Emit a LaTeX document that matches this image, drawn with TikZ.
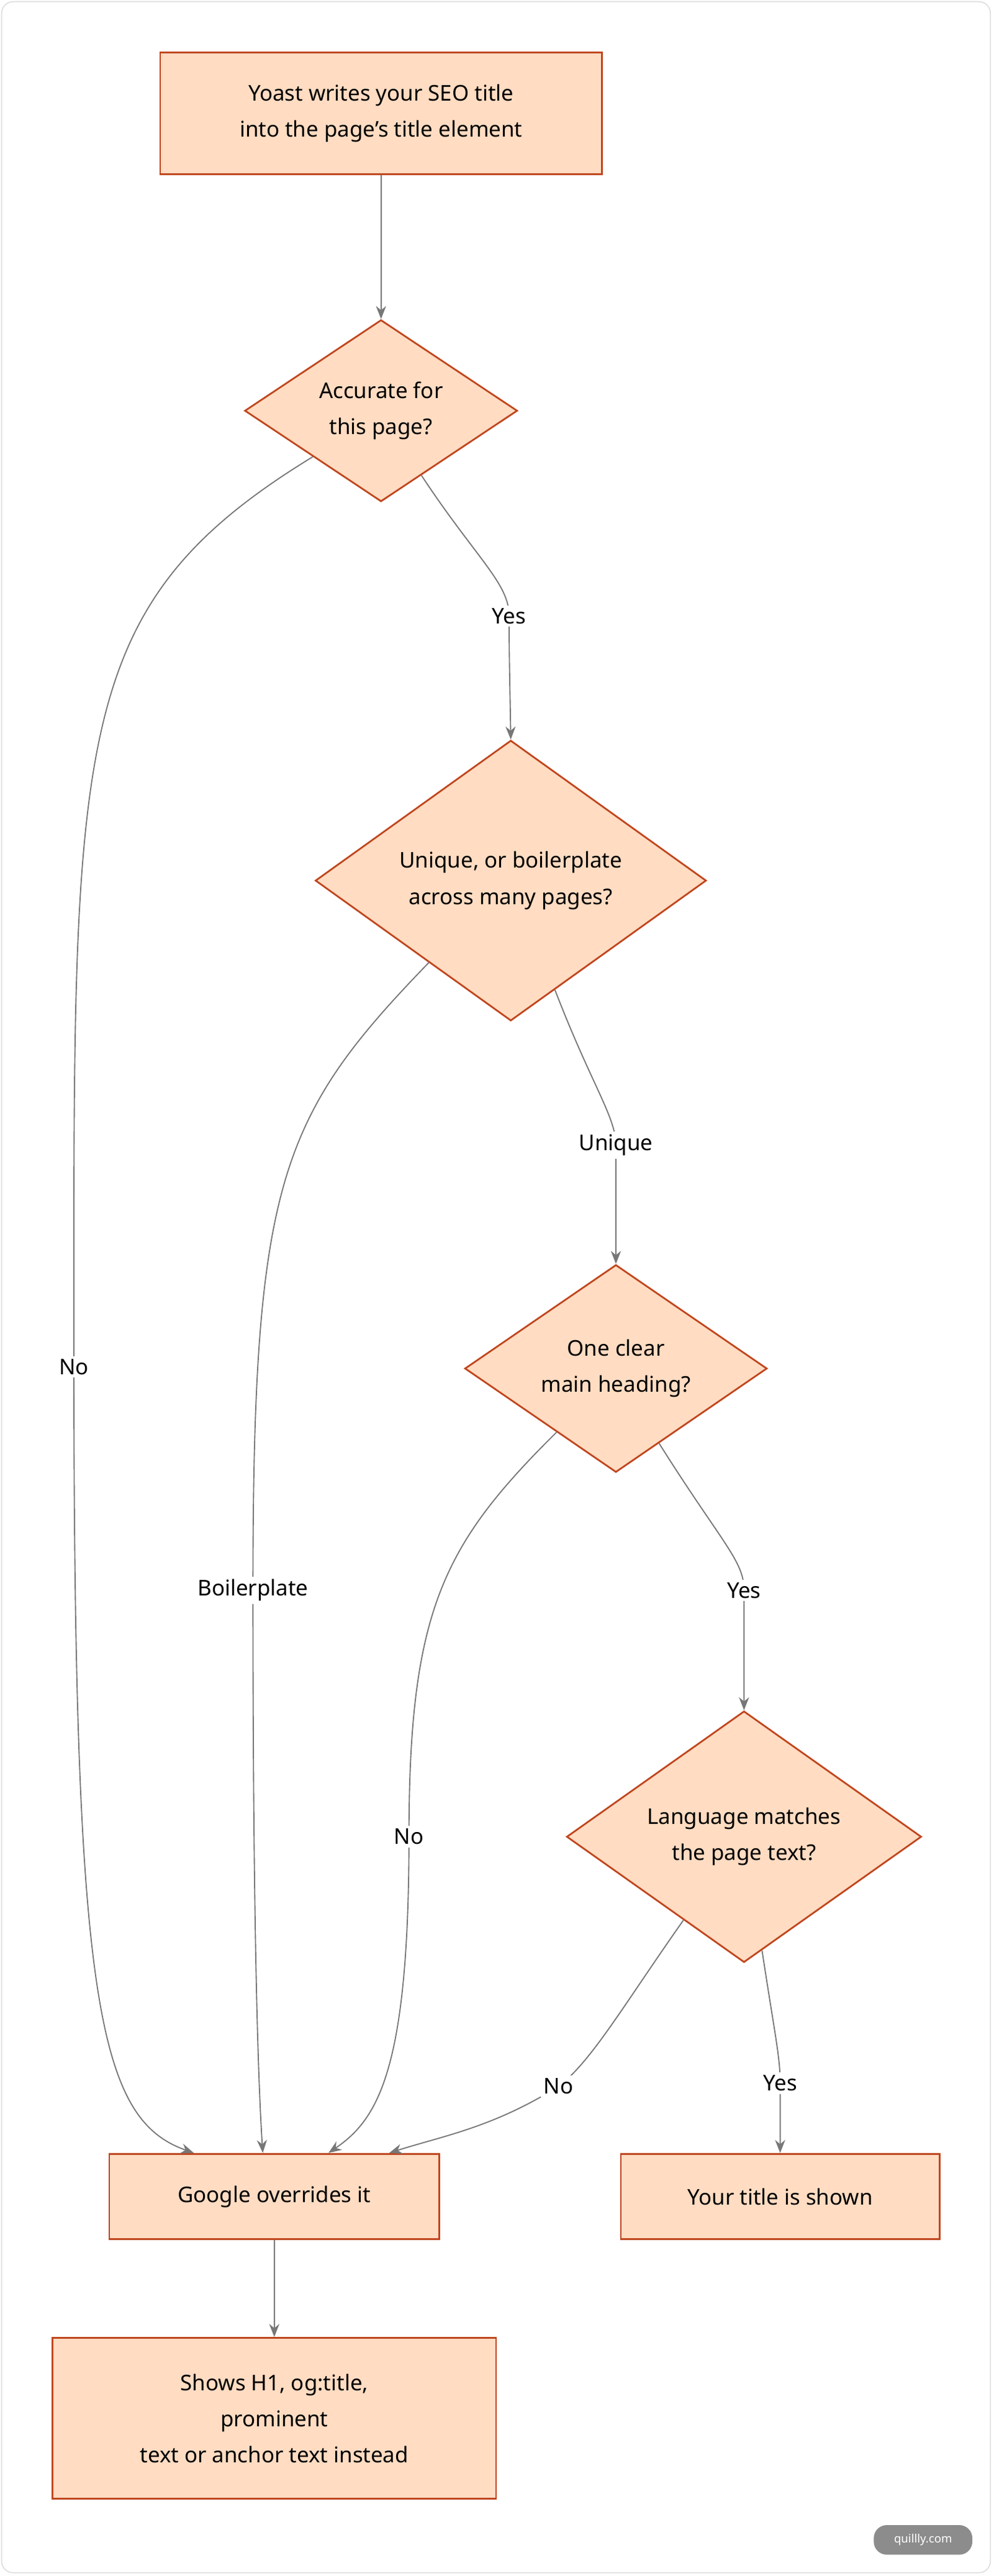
\documentclass[tikz,border=0pt]{standalone}
\usepackage{fontspec}
\setmainfont{Noto Sans}
\usetikzlibrary{shapes.geometric,arrows.meta,calc}
\newcommand\dpx{0.04cm}
\definecolor{boxfill}{HTML}{FFDCC2}
\definecolor{boxline}{HTML}{C0461E}
\definecolor{edgegray}{HTML}{777777}
\tikzset{
  box/.style={draw=boxline,fill=boxfill,line width=1.2pt,align=center,
    font=\fontsize{15}{25}\selectfont,inner sep=0pt},
  decision/.style={box,diamond,aspect=1},
  edge/.style={draw=edgegray,line width=0.8pt,-{Stealth[length=9pt,width=7pt]}},
  lbl/.style={fill=white,inner sep=2pt,font=\fontsize{15}{18}\selectfont}
}
\begin{document}
\begin{tikzpicture}[x=0.04cm,y=-0.04cm]
  \useasboundingbox (0,0) rectangle (605,1568);
  \draw[black!12,rounded corners=8pt,line width=0.8pt] (1,1) rectangle (603,1566);

  \node[box,minimum width=269*\dpx,minimum height=74*\dpx] (yoast) at (232,69)
    {Yoast writes your SEO title\\into the page's title element};
  \node[decision,minimum width=166*\dpx] (accurate) at (232,250) {Accurate for\\this page?};
  \node[decision,minimum width=238*\dpx] (unique) at (311,536) {Unique, or boilerplate\\across many pages?};
  \node[decision,minimum width=184*\dpx] (heading) at (375,833) {One clear\\main heading?};
  \node[decision,minimum width=216*\dpx] (language) at (453,1118) {Language matches\\the page text?};
  \node[box,minimum width=201*\dpx,minimum height=52*\dpx] (google) at (167,1337) {Google overrides it};
  \node[box,minimum width=194*\dpx,minimum height=52*\dpx] (shown) at (475,1337) {Your title is shown};
  \node[box,minimum width=270*\dpx,minimum height=98*\dpx] (shows) at (167,1472)
    {Shows H1, og:title,\\prominent\\text or anchor text instead};

  % connectors
  \draw[edge] (yoast) -- (accurate);
  \draw[edge] (accurate.302) .. controls (290,340) and (310,355) .. (310,375)
    node[lbl] {Yes} .. controls (310,395) .. (unique.north);
  \draw[edge] (accurate.214) .. controls (40,370) and (45,450) .. (45,832)
    node[lbl] {No} .. controls (45,1220) and (60,1290) .. ([xshift=-49*\dpx]google.north);
  \draw[edge] (unique.225) .. controls (170,680) and (154,720) .. (154,968)
    node[lbl] {Boilerplate} .. controls (154,1200) and (158,1280) .. ([xshift=-7*\dpx]google.north);
  \draw[edge] (unique.292) .. controls (360,660) and (375,680) .. (375,697)
    node[lbl] {Unique} .. controls (375,715) .. (heading.north);
  \draw[edge] (heading.227) .. controls (270,940) and (249,980) .. (249,1118)
    node[lbl] {No} .. controls (249,1260) and (230,1290) .. ([xshift=33*\dpx]google.north);
  \draw[edge] (heading.300) .. controls (440,940) and (453,950) .. (453,968)
    node[lbl] {Yes} .. controls (453,985) .. (language.north);
  \draw[edge] (language.234) .. controls (380,1220) and (360,1255) .. (340,1270)
    node[lbl] {No} .. controls (300,1295) and (270,1300) .. ([xshift=70*\dpx]google.north);
  \draw[edge] (language.279) .. controls (472,1240) and (475,1252) .. (475,1268)
    node[lbl] {Yes} .. controls (475,1285) .. (shown.north);
  \draw[edge] (google) -- (shows);

  \node[fill=black!45,text=white,rounded corners=9pt,minimum width=60*\dpx,minimum height=18*\dpx,
    inner sep=0pt,font=\fontsize{8}{9}\selectfont] (mark) at (562,1546) {quillly.com};
\end{tikzpicture}
\end{document}
